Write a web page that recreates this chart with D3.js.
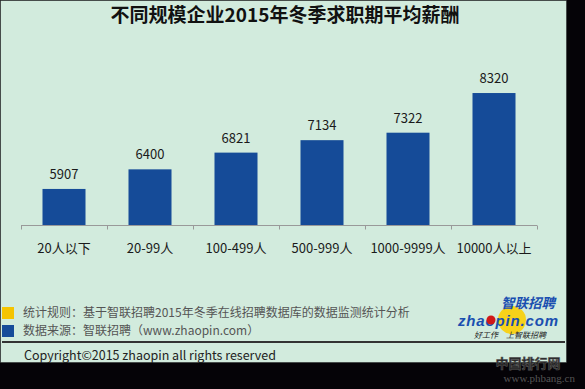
<!DOCTYPE html>
<html lang="zh">
<head>
<meta charset="UTF-8">
<script src="https://cdnjs.cloudflare.com/ajax/libs/d3/7.8.5/d3.min.js"></script>
<style>
body{ margin:0; background:#050307; }
svg text{ font-family: "Noto Sans CJK SC", "Noto Sans", sans-serif; }
</style>
</head>
<body>
<div id="main-container"></div>
<script>
/* global d3 */
const chartTitle = '不同规模企业2015年冬季求职期平均薪酬';
const categories = ['20人以下', '20-99人', '100-499人', '500-999人', '1000-9999人', '10000人以上'];
const salaries = [5907, 6400, 6821, 7134, 7322, 8320];
const notes = ['统计规则：基于智联招聘2015年冬季在线招聘数据库的数据监测统计分析', '数据来源：智联招聘（www.zhaopin.com）'];
const noteColors = ['#f5c400', '#164c99'];

const w = 585, h = 389;
const svg = d3.select('#main-container').append('svg').attr('width', w).attr('height', h);

// light panel
svg.append('rect').attr('x', 0.5).attr('y', 0.5).attr('width', 566).attr('height', 362)
  .attr('fill', '#d2ebdd').attr('stroke', '#222').attr('stroke-dasharray', '1,1');

svg.append('text').attr('x', 285).attr('y', 22).attr('text-anchor', 'middle')
  .style('font-size', '19px').style('font-weight', 'bold').attr('fill', '#111').text(chartTitle);

const xScale = d3.scaleBand().domain(categories).range([21, 537]).paddingInner(0.5).paddingOuter(0.25);
const yScale = d3.scaleLinear().domain([5000, 9000]).range([225, 66]);

svg.selectAll('.bar').data(salaries).enter().append('rect').attr('class', 'bar')
  .attr('x', (d, i) => xScale(categories[i]))
  .attr('y', d => yScale(d))
  .attr('width', xScale.bandwidth())
  .attr('height', d => yScale(5000) - yScale(d))
  .attr('fill', '#154b98');

svg.selectAll('.val').data(salaries).enter().append('text').attr('class', 'val')
  .attr('x', (d, i) => xScale(categories[i]) + xScale.bandwidth() / 2)
  .attr('y', d => yScale(d) - 10)
  .attr('text-anchor', 'middle').style('font-size', '13px').attr('fill', '#1a1a1a')
  .text(d => d);

// category axis with ticks at band edges
const axisG = svg.append('g').attr('transform', 'translate(0,225.5)');
axisG.append('line').attr('x1', 21).attr('x2', 537).attr('stroke', '#999');
const edges = categories.map(c => xScale(c) - xScale.step() * 0.25).concat([537]);
axisG.selectAll('.tk').data(edges).enter().append('line')
  .attr('x1', d => Math.round(d) + 0.5).attr('x2', d => Math.round(d) + 0.5)
  .attr('y1', 0).attr('y2', 4).attr('stroke', '#999');
axisG.selectAll('.cat').data(categories).enter().append('text')
  .attr('x', d => xScale(d) + xScale.bandwidth() / 2).attr('y', 27)
  .attr('text-anchor', 'middle').style('font-size', '13px').attr('fill', '#1a1a1a')
  .text(d => d);

// notes
notes.forEach((t, i) => {
  svg.append('rect').attr('x', 2).attr('y', 307 + i * 18).attr('width', 12).attr('height', 12).attr('fill', noteColors[i]);
  svg.append('text').attr('x', 23).attr('y', 317 + i * 18).style('font-size', '12px').attr('fill', '#555').text(t);
});

svg.append('line').attr('x1', 2).attr('x2', 565).attr('y1', 342).attr('y2', 342).attr('stroke', '#333').attr('stroke-width', 2);
svg.append('text').attr('x', 24).attr('y', 360).style('font-size', '12.5px').attr('fill', '#222')
  .text('Copyright©2015 zhaopin all rights reserved');

// logo
const logo = svg.append('g');
logo.append('circle').attr('cx', 512).attr('cy', 320).attr('r', 14).attr('fill', '#f7d21a');
logo.append('text').attr('x', 501).attr('y', 308).style('font-size', '13.5px').style('font-weight', 'bold').style('font-style', 'italic').attr('fill', '#1a4fb0').text('智联招聘');
logo.append('text').attr('x', 458).attr('y', 326).style('font-family', '"Liberation Sans", sans-serif').style('font-size', '15px').style('font-weight', 'bold').style('font-style', 'italic').attr('fill', '#1a4fb0').attr('textLength', 100).text('zhaopin.com');
logo.append('circle').attr('cx', 491).attr('cy', 320).attr('r', 4.5).attr('fill', '#d01818');
logo.append('text').attr('x', 474).attr('y', 338).style('font-size', '8px').style('font-style', 'italic').attr('fill', '#222').text('好工作　上智联招聘');

// watermark
svg.append('text').attr('x', 528).attr('y', 368).attr('text-anchor', 'middle').style('font-size', '13px').style('font-weight', 'bold')
  .attr('fill', '#222').attr('stroke', '#555').attr('stroke-width', 0.6).text('中国排行网');
svg.append('text').attr('x', 575).attr('y', 382).attr('text-anchor', 'end').style('font-family', '"Liberation Serif", serif').style('font-size', '11px')
  .attr('fill', '#555').text('www.phbang.cn');
</script>
</body>
</html>
